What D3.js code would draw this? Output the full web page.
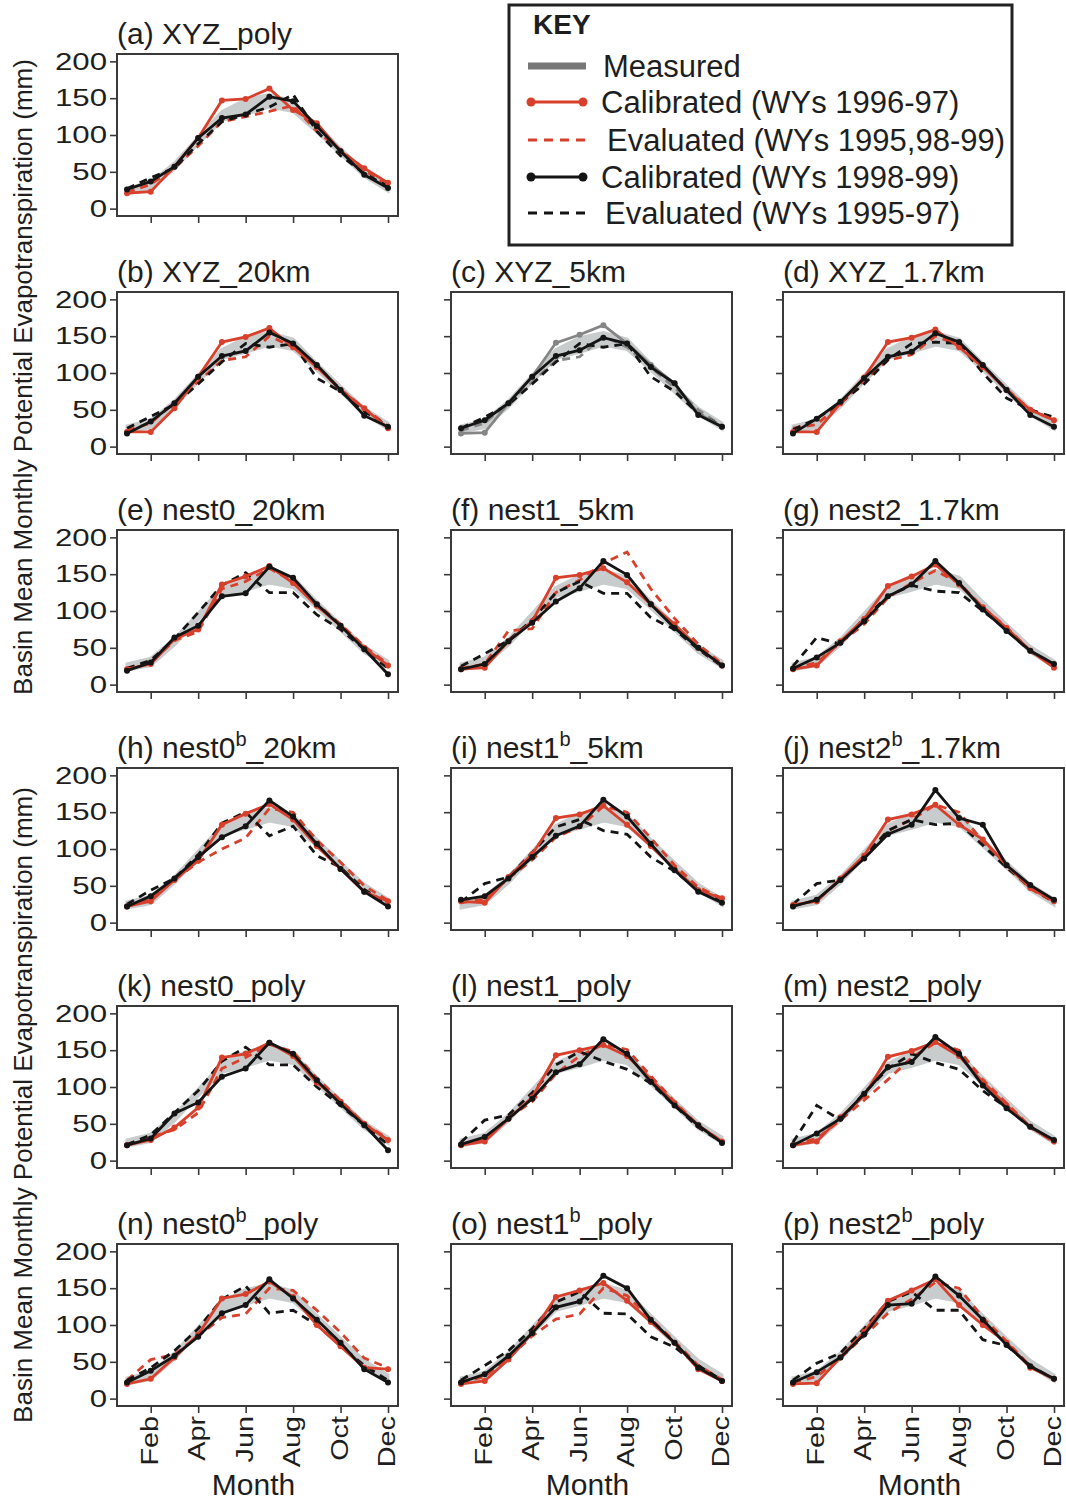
<!DOCTYPE html>
<html>
<head>
<meta charset="utf-8">
<script src="https://cdn.jsdelivr.net/npm/d3@7"></script>
<style>
  body { margin: 0; background: #fff; }
  svg { display: block; }
  text { font-family: "Liberation Sans", Arial, sans-serif; fill: #1e1e1e; }
</style>
</head>
<body>
<svg id="fig" width="1066" height="1502"></svg>
<script>
// ---- data -------------------------------------------------------------
const months = [1, 2, 3, 4, 5, 6, 7, 8, 9, 10, 11, 12];
const monthTicks = [2, 4, 6, 8, 10, 12];
const monthLabels = ["Feb", "Apr", "Jun", "Aug", "Oct", "Dec"];
const etTicks = [0, 50, 100, 150, 200];

const panelTitles = [
  "(a) XYZ_poly", "(b) XYZ_20km", "(c) XYZ_5km", "(d) XYZ_1.7km",
  "(e) nest0_20km", "(f) nest1_5km", "(g) nest2_1.7km",
  "(h) nest0^b_20km", "(i) nest1^b_5km", "(j) nest2^b_1.7km",
  "(k) nest0_poly", "(l) nest1_poly", "(m) nest2_poly",
  "(n) nest0^b_poly", "(o) nest1^b_poly", "(p) nest2^b_poly"
];
const panelRow = [0, 1, 1, 1, 2, 2, 2, 3, 3, 3, 4, 4, 4, 5, 5, 5];
const panelCol = [0, 0, 1, 2, 0, 1, 2, 0, 1, 2, 0, 1, 2, 0, 1, 2];
// panel (c) is printed in greyscale
const greyPanels = [2];

// measured monthly PET envelope (mm)
const measuredLow  = [20, 26, 54, 88, 120, 128, 138, 132, 104, 74, 44, 24];
const measuredHigh = [28, 36, 62, 97, 132, 148, 155, 146, 113, 82, 52, 32];

// simulated monthly PET (mm), one row per panel a..p
const calibrated9697 = [
  [21, 23, 57, 96, 147, 149, 163, 134, 116, 78, 55, 35],
  [20, 20, 52, 95, 142, 149, 161, 135, 108, 77, 52, 25],
  [18, 19, 59, 95, 141, 152, 165, 140, 111, 86, 45, 27],
  [20, 20, 59, 94, 142, 148, 159, 135, 108, 77, 50, 36],
  [21, 28, 62, 75, 136, 147, 161, 138, 107, 80, 50, 26],
  [21, 23, 59, 86, 145, 149, 158, 139, 109, 82, 50, 26],
  [21, 26, 59, 89, 134, 147, 163, 136, 105, 77, 46, 23],
  [22, 29, 58, 84, 133, 148, 161, 140, 104, 73, 42, 29],
  [29, 27, 62, 93, 142, 147, 159, 133, 104, 73, 44, 33],
  [24, 29, 60, 91, 140, 147, 160, 133, 113, 78, 47, 29],
  [21, 28, 45, 72, 140, 145, 160, 142, 106, 80, 50, 28],
  [21, 26, 57, 86, 143, 150, 157, 142, 111, 78, 48, 26],
  [21, 26, 59, 88, 141, 149, 161, 142, 107, 75, 46, 26],
  [20, 27, 56, 87, 136, 142, 159, 138, 100, 71, 42, 40],
  [20, 24, 53, 89, 138, 147, 157, 133, 104, 76, 40, 24],
  [20, 21, 56, 91, 133, 147, 162, 127, 100, 76, 42, 27]
];
const evaluated959899 = [
  [22, 33, 55, 85, 118, 125, 132, 140, 105, 80, 52, 32],
  [22, 32, 60, 88, 117, 122, 150, 135, 110, 78, 52, 28],
  [22, 32, 60, 88, 117, 122, 150, 135, 108, 80, 50, 28],
  [25, 30, 58, 90, 117, 125, 150, 138, 110, 78, 50, 36],
  [22, 30, 60, 72, 130, 140, 158, 140, 110, 82, 52, 28],
  [22, 28, 73, 76, 125, 142, 165, 180, 130, 90, 55, 28],
  [22, 30, 57, 82, 118, 138, 155, 138, 105, 78, 46, 25],
  [22, 32, 58, 82, 100, 115, 155, 150, 112, 82, 50, 30],
  [27, 32, 60, 85, 116, 130, 158, 150, 115, 78, 48, 33],
  [23, 30, 58, 88, 125, 140, 160, 150, 110, 78, 46, 28],
  [22, 32, 42, 65, 125, 140, 158, 148, 112, 82, 50, 30],
  [22, 30, 58, 80, 118, 142, 158, 151, 115, 80, 48, 26],
  [22, 30, 55, 82, 110, 140, 160, 150, 110, 78, 46, 25],
  [25, 53, 60, 85, 110, 115, 150, 147, 120, 90, 55, 42],
  [22, 30, 55, 85, 108, 115, 150, 140, 108, 78, 45, 26],
  [22, 30, 55, 85, 116, 135, 158, 150, 110, 78, 44, 26]
];
const calibrated9899 = [
  [26, 37, 57, 96, 123, 128, 152, 146, 112, 78, 46, 28],
  [18, 34, 59, 95, 123, 130, 155, 140, 111, 77, 42, 27],
  [25, 36, 59, 95, 123, 131, 148, 140, 108, 86, 43, 27],
  [18, 38, 61, 93, 122, 129, 154, 142, 111, 77, 43, 27],
  [19, 30, 64, 80, 120, 124, 160, 145, 109, 80, 48, 14],
  [21, 28, 59, 84, 113, 131, 168, 149, 109, 77, 50, 26],
  [22, 37, 57, 86, 120, 136, 168, 138, 102, 73, 46, 28],
  [22, 36, 60, 89, 116, 131, 166, 144, 107, 73, 42, 22],
  [31, 36, 60, 89, 118, 131, 167, 144, 107, 71, 42, 27],
  [22, 31, 58, 87, 120, 133, 180, 142, 133, 78, 51, 31],
  [21, 30, 64, 79, 114, 125, 160, 145, 109, 77, 48, 14],
  [22, 32, 57, 84, 120, 131, 165, 145, 107, 75, 48, 24],
  [21, 37, 57, 91, 127, 134, 168, 145, 102, 71, 46, 28],
  [22, 38, 58, 84, 116, 127, 162, 136, 107, 76, 40, 22],
  [22, 33, 58, 89, 124, 132, 167, 150, 107, 76, 42, 24],
  [22, 36, 56, 87, 127, 129, 166, 140, 107, 73, 44, 27]
];
const evaluated9597 = [
  [27, 42, 55, 88, 118, 128, 138, 155, 105, 72, 48, 30],
  [25, 41, 57, 85, 115, 140, 135, 140, 93, 75, 48, 28],
  [25, 40, 57, 85, 115, 140, 135, 140, 95, 75, 45, 28],
  [23, 38, 60, 85, 118, 140, 142, 140, 100, 66, 50, 40],
  [22, 33, 62, 98, 135, 152, 125, 125, 95, 75, 48, 22],
  [25, 42, 60, 88, 125, 140, 124, 124, 91, 75, 48, 25],
  [25, 64, 55, 90, 120, 135, 127, 125, 100, 75, 45, 28],
  [25, 44, 60, 92, 135, 150, 118, 131, 91, 75, 45, 25],
  [28, 53, 62, 95, 130, 140, 125, 120, 89, 70, 45, 28],
  [25, 53, 58, 90, 125, 140, 133, 135, 105, 75, 48, 28],
  [22, 35, 65, 95, 135, 154, 130, 130, 100, 75, 48, 22],
  [25, 55, 62, 92, 130, 148, 135, 124, 105, 75, 45, 25],
  [25, 75, 55, 92, 125, 145, 133, 124, 95, 72, 45, 27],
  [25, 42, 65, 95, 135, 153, 116, 120, 100, 72, 45, 25],
  [25, 45, 65, 95, 131, 145, 116, 115, 84, 70, 45, 25],
  [25, 48, 62, 95, 132, 145, 120, 120, 80, 72, 45, 26]
];

const legendLabels = [
  "Measured",
  "Calibrated (WYs 1996-97)",
  "Evaluated (WYs 1995,98-99)",
  "Calibrated (WYs 1998-99)",
  "Evaluated (WYs 1995-97)"
];

// ---- layout -----------------------------------------------------------
const RED = "#d9402c", BLACK = "#141414", GREY = "#858585";
const BAND = "#c9cccc", KEYGREY = "#777";
const boxW = 281, boxH = 162;
const colX = [117, 451, 783];
const rowY = r => 54 + 238 * r;
const TICK_STRETCH = 1.3;

const svg = d3.select("#fig");

const x = d3.scaleLinear().domain([1, 12]).range([10, 271]);
const y = d3.scaleLinear().domain([-10, 210]).range([boxH, 0]);

const line = d3.line().x((d, i) => x(months[i])).y(d => y(d));
const band = d3.area()
  .x((d, i) => x(months[i]))
  .y0((d, i) => y(measuredLow[i]))
  .y1((d, i) => y(measuredHigh[i]));

panelTitles.forEach((title, p) => {
  const row = panelRow[p], col = panelCol[p];
  const g = svg.append("g").attr("transform", `translate(${colX[col]},${rowY(row)})`);
  const grey = greyPanels.includes(p);
  const redC = grey ? GREY : RED;

  // title with optional superscript
  const parts = title.split("^b");
  const t = g.append("text").attr("x", 0).attr("y", -10)
    .attr("font-size", 30);
  t.append("tspan").text(parts[0]);
  if (parts.length > 1) {
    t.append("tspan").attr("font-size", 20).attr("dy", -12).text("b");
    t.append("tspan").attr("dy", 12).text(parts[1]);
  }

  // measured envelope
  g.append("path").datum(months).attr("d", band)
    .attr("fill", BAND).attr("stroke", BAND).attr("stroke-width", 3);

  // evaluated (dashed) lines
  g.append("path").datum(evaluated959899[p]).attr("d", line)
    .attr("fill", "none").attr("stroke", redC).attr("stroke-width", 2.8)
    .attr("stroke-dasharray", "8,6");
  g.append("path").datum(evaluated9597[p]).attr("d", line)
    .attr("fill", "none").attr("stroke", BLACK).attr("stroke-width", 2.8)
    .attr("stroke-dasharray", "8,6");

  // calibrated lines with markers
  [[calibrated9697[p], redC], [calibrated9899[p], BLACK]].forEach(([vals, c]) => {
    g.append("path").datum(vals).attr("d", line)
      .attr("fill", "none").attr("stroke", c).attr("stroke-width", 2.8);
    g.selectAll(null).data(vals).join("circle")
      .attr("cx", (d, i) => x(months[i])).attr("cy", d => y(d))
      .attr("r", 3).attr("fill", c);
  });

  // frame
  g.append("rect").attr("width", boxW).attr("height", boxH)
    .attr("fill", "none").attr("stroke", "#3a3a3a").attr("stroke-width", 2);

  // y axis
  const yAxis = d3.axisLeft(y).tickValues(etTicks).tickSize(7).tickSizeOuter(0)
    .tickPadding(3).tickFormat(col === 0 ? d3.format("d") : () => "");
  const ya = g.append("g").call(yAxis);
  ya.select(".domain").remove();
  ya.selectAll("line").attr("stroke", "#3a3a3a").attr("stroke-width", 1.6);
  ya.selectAll("text")
    .attr("font-size", 24).attr("fill", "#1e1e1e")
    .attr("x", -10 / TICK_STRETCH)
    .attr("transform", `scale(${TICK_STRETCH},1)`);

  // x axis
  const xAxis = d3.axisBottom(x).tickValues(monthTicks).tickSize(7).tickSizeOuter(0)
    .tickFormat(() => "");
  const xa = g.append("g").attr("transform", `translate(0,${boxH})`).call(xAxis);
  xa.select(".domain").remove();
  xa.selectAll("line").attr("stroke", "#3a3a3a").attr("stroke-width", 1.6);

  if (row === 5) {
    g.selectAll(null).data(monthTicks).join("text")
      .attr("transform", (d) => `translate(${x(d)},${boxH + 10}) rotate(-90) scale(1.2,1)`)
      .attr("text-anchor", "end").attr("dy", "0.3em")
      .attr("font-size", 24)
      .text((d, i) => monthLabels[i]);
    g.append("text").attr("x", boxW / 2 - 4).attr("y", boxH + 89)
      .attr("text-anchor", "middle").attr("font-size", 30).text("Month");
  }
});

// y axis titles
const yTitle = "Basin Mean Monthly Potential Evapotranspiration (mm)";
[377, 1105].forEach(cy => {
  svg.append("text")
    .attr("transform", `translate(32,${cy}) rotate(-90)`)
    .attr("text-anchor", "middle").attr("font-size", 26)
    .text(yTitle);
});

// key
const key = svg.append("g");
key.append("rect").attr("x", 509).attr("y", 5).attr("width", 503).attr("height", 240)
  .attr("fill", "#fff").attr("stroke", "#222").attr("stroke-width", 3);
key.append("text").attr("x", 533).attr("y", 34).attr("font-size", 28)
  .attr("font-weight", "bold").text("KEY");

const keyRows = [
  { yy: 66, color: KEYGREY, dash: null, width: 7, dots: false, tx: 603 },
  { yy: 102, color: RED, dash: null, width: 2.8, dots: true, tx: 601 },
  { yy: 140, color: RED, dash: "9,7", width: 2.8, dots: false, tx: 607 },
  { yy: 177, color: BLACK, dash: null, width: 2.8, dots: true, tx: 601 },
  { yy: 213, color: BLACK, dash: "9,7", width: 2.8, dots: false, tx: 605 }
];
keyRows.forEach((k, i) => {
  key.append("line").attr("x1", 528).attr("x2", 586).attr("y1", k.yy).attr("y2", k.yy)
    .attr("stroke", k.color).attr("stroke-width", k.width)
    .attr("stroke-dasharray", k.dash);
  if (k.dots) {
    [531, 583].forEach(cx => key.append("circle").attr("cx", cx).attr("cy", k.yy)
      .attr("r", 4.5).attr("fill", k.color));
  }
  key.append("text").attr("x", k.tx).attr("y", k.yy + 11).attr("font-size", 31)
    .text(legendLabels[i]);
});
</script>
</body>
</html>
